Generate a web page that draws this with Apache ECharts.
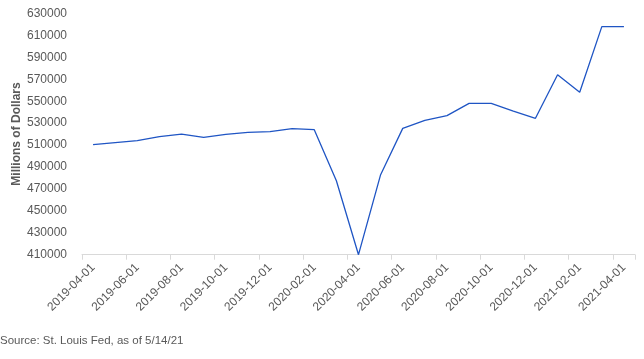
<!DOCTYPE html>
<html>
<head>
<meta charset="utf-8">
<script src="https://cdn.jsdelivr.net/npm/echarts@6/dist/echarts.min.js"></script>
<style>html,body{margin:0;padding:0;background:#fff;}#c{width:644px;height:359px;}</style>
</head>
<body>
<div id="c"></div>
<script>
const categories = [
  '2019-04-01','2019-05-01','2019-06-01','2019-07-01','2019-08-01','2019-09-01','2019-10-01',
  '2019-11-01','2019-12-01','2020-01-01','2020-02-01','2020-03-01','2020-04-01','2020-05-01',
  '2020-06-01','2020-07-01','2020-08-01','2020-09-01','2020-10-01','2020-11-01','2020-12-01',
  '2021-01-01','2021-02-01','2021-03-01','2021-04-01'
];
const values = [
  510400, 512200, 514000, 517700, 520000, 517000, 519800,
  521600, 522200, 525000, 524000, 477500, 410000, 483000,
  525200, 532500, 536800, 548000, 548000, 541000, 534400,
  574200, 558100, 618000, 618000
];
const yMin = 410000, yMax = 630000, yStep = 20000;
const yAxisName = 'Millions of Dollars';
const sourceText = 'Source: St. Louis Fed, as of 5/14/21';

const font = '"Liberation Sans", Arial, sans-serif';
const chart = echarts.init(document.getElementById('c'));
chart.setOption({
  animation: false,
  grid: { left: 82, right: 9, top: 13.5, bottom: 104.3, containLabel: false, outerBoundsMode: 'none' },
  graphic: [{
    type: 'text', left: 0, top: 335,
    style: { text: sourceText, fill: '#595959', font: '11.5px ' + font }
  }, {
    type: 'text', x: 17, y: 134, rotation: Math.PI / 2,
    style: { text: yAxisName, fill: '#595959', font: 'bold 12px ' + font, align: 'center', verticalAlign: 'middle' }
  }],
  xAxis: {
    type: 'category',
    data: categories,
    boundaryGap: true,
    axisLine: { lineStyle: { color: '#d9d9d9', width: 1 } },
    axisTick: { show: true, interval: 1, length: 5, lineStyle: { color: '#d9d9d9' } },
    axisLabel: { interval: 1, rotate: 45, color: '#595959', fontSize: 12, fontFamily: font, margin: 11 },
    splitLine: { show: false }
  },
  yAxis: {
    type: 'value',
    min: yMin, max: yMax, interval: yStep,
    axisLine: { show: false },
    axisTick: { show: false },
    splitLine: { show: false },
    axisLabel: { color: '#595959', fontSize: 12, fontFamily: font, margin: 15, formatter: v => String(v) }
  },
  series: [{
    type: 'line',
    data: values,
    symbol: 'none',
    lineStyle: { color: '#1f55c4', width: 1.3 }
  }]
});
</script>
</body>
</html>
